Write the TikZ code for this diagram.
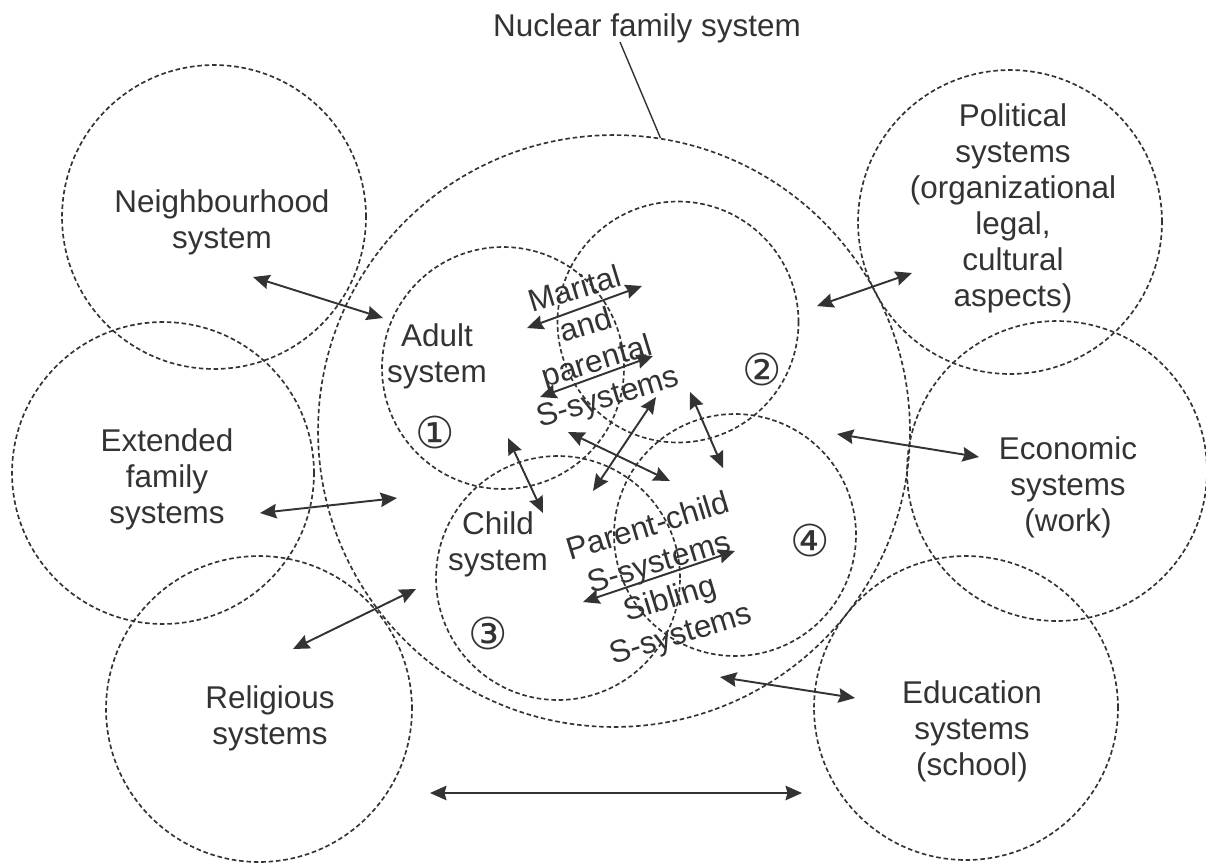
\documentclass[tikz,border=0pt]{standalone}
\usepackage{fontspec}
\setmainfont{Liberation Sans}
\newfontfamily\symfont{DejaVu Sans}
\usetikzlibrary{arrows.meta}
\definecolor{ink}{HTML}{333333}
\begin{document}
\begin{tikzpicture}[x=0.02cm,y=-0.02cm,
  sys/.style={circle, draw=ink, line width=0.95pt, dash pattern=on 2.6pt off 1.6pt, minimum size=#1, inner sep=0pt},
  lbl/.style={text=ink, align=center, font=\fontsize{17.9}{20.5}\selectfont, inner sep=0pt},
  rlbl/.style={text=ink, align=center, font=\fontsize{17.9}{21.3}\selectfont, inner sep=0pt, rotate=17},
  num/.style={text=ink, font=\symfont\fontsize{25}{28}\selectfont, inner sep=0pt},
  link/.style={draw=ink, line width=1.1pt, {Stealth[length=3.3mm,width=2.9mm,inset=0.4mm]}-{Stealth[length=3.3mm,width=2.9mm,inset=0.4mm]}},
  leader/.style={draw=ink, line width=0.8pt}]
\useasboundingbox (0,0) rectangle (1206,863);
\fill[white] (0,0) rectangle (1206,863);

% circles
\node[sys=11.84cm] (nuc) at (614,431) {};
\node[sys=6.08cm] (nbh) at (214,217) {};
\node[sys=6.04cm] (ext) at (163,473) {};
\node[sys=6.12cm] (rel) at (259,709) {};
\node[sys=6.08cm] (pol) at (1010,222) {};
\node[sys=6.0cm] (eco) at (1057,471) {};
\node[sys=6.08cm] (edu) at (966,708) {};
\node[sys=4.84cm] (c1) at (503,368) {};
\node[sys=4.82cm] (c2) at (678,322) {};
\node[sys=4.88cm] (c3) at (558,578) {};
\node[sys=4.84cm] (c4) at (735,535) {};

% labels
\node[lbl] (tnuc) at (647,28) {Nuclear family system};
\node[lbl] (tnbh) at (222,222) {Neighbourhood\\system};
\node[lbl] (text) at (167,479) {Extended\\family\\systems};
\node[lbl] (trel) at (270,718) {Religious\\systems};
\node[lbl] (tpol) at (1013,208) {Political\\systems\\(organizational\\legal,\\cultural\\aspects)};
\node[lbl] (teco) at (1068,487) {Economic\\systems\\(work)};
\node[lbl] (tedu) at (972,731) {Education\\systems\\(school)};
\node[lbl] (tad) at (437,356) {Adult\\system};
\node[lbl] (tch) at (498,544) {Child\\system};
\node[rlbl] (tmar) at (592,345) {Marital\\and\\parental\\S-systems};
\node[rlbl] (tpc) at (665,582) {Parent-child\\S-systems\\Sibling\\S-systems};
\node[num] (n1) at (435,432) {①};
\node[num] (n2) at (762,369) {②};
\node[num] (n3) at (488,633) {③};
\node[num] (n4) at (810,540) {④};

% leader
\coordinate (lead) at (620,42);
\draw[leader] (lead) -- (nuc.81.7);

% arrow end points
\coordinate (a1) at (253,277); \coordinate (b1) at (383,318);
\coordinate (a2) at (260,513); \coordinate (b2) at (397,498);
\coordinate (a3) at (293,649); \coordinate (b3) at (416,589);
\coordinate (a4) at (817,306); \coordinate (b4) at (912,273);
\coordinate (a5) at (837,434); \coordinate (b5) at (979,457);
\coordinate (a6) at (720,677); \coordinate (b6) at (855,698);
\coordinate (a7) at (430,793); \coordinate (b7) at (802,793);
\coordinate (a8) at (527,328); \coordinate (b8) at (642,286);
\coordinate (a9) at (540,397); \coordinate (b9) at (653,356);
\coordinate (a10) at (508,438); \coordinate (b10) at (543,513);
\coordinate (a11) at (568,432); \coordinate (b11) at (670,481);
\coordinate (a12) at (656,397); \coordinate (b12) at (593,491);
\coordinate (a13) at (690,392); \coordinate (b13) at (723,468);
\coordinate (a14) at (583,602); \coordinate (b14) at (735,551);

\foreach \i in {1,...,14} { \draw[link] (a\i) -- (b\i); }
\end{tikzpicture}
\end{document}
